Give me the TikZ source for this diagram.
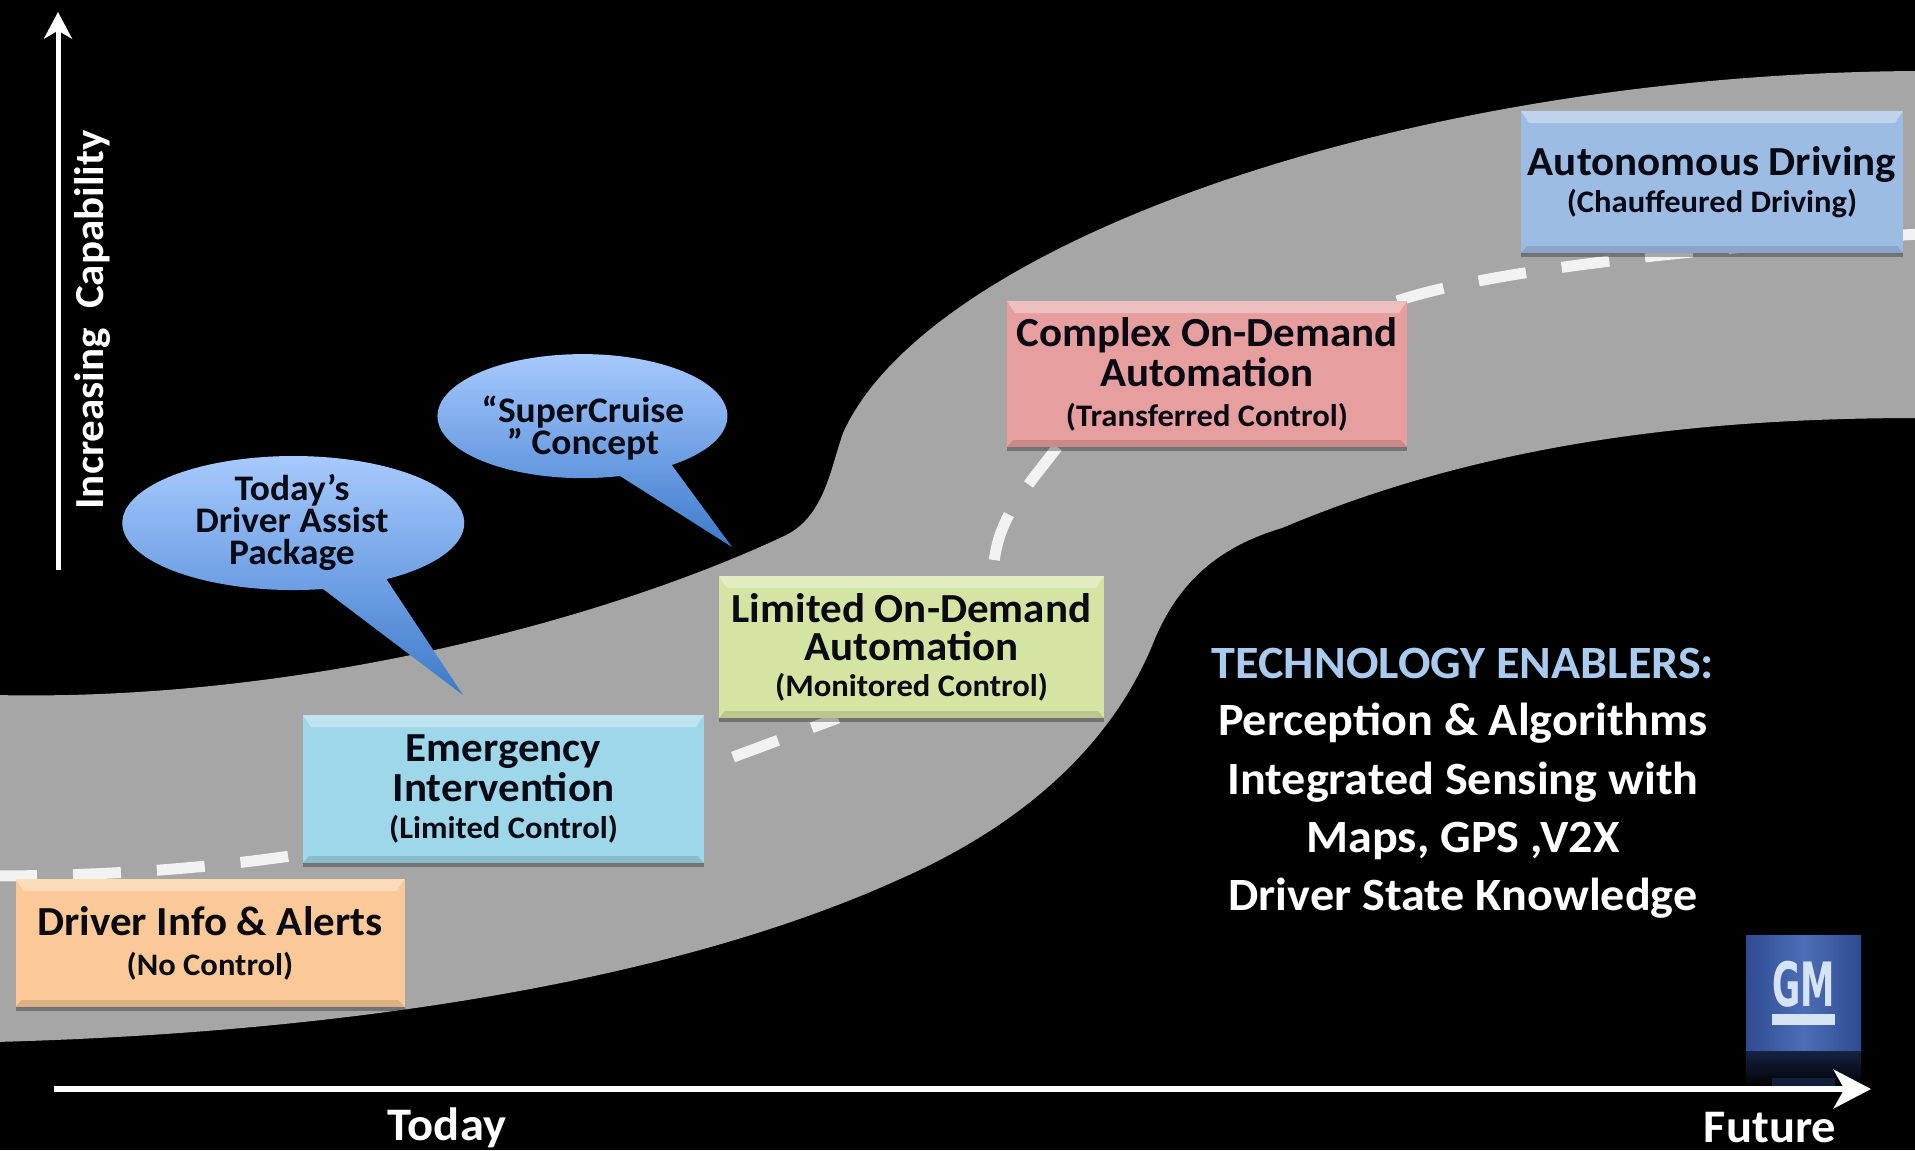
\documentclass[tikz,border=0pt]{standalone}
\usepackage{fontspec}
\usepackage{graphicx}
\setmainfont{Carlito}[FakeStretch=1.04]
\newfontfamily\gmfont{DejaVu Sans}
\usetikzlibrary{arrows.meta,shadows,calc,backgrounds}

\newlength{\pxunit}
\setlength{\pxunit}{0.75pt}

\definecolor{bandgrey}{HTML}{A6A6A6}
\definecolor{roadwhite}{HTML}{F2F2F2}
\definecolor{inkblack}{HTML}{0A0A14}
\definecolor{driverfill}{HTML}{FBC997}
\definecolor{emergencyfill}{HTML}{9DD7E9}
\definecolor{limitedfill}{HTML}{D4E4A2}
\definecolor{complexfill}{HTML}{E69E9E}
\definecolor{autofill}{HTML}{9DBCE3}
\definecolor{bubbletop}{HTML}{A9CCFF}
\definecolor{bubblemid}{HTML}{86B2F4}
\definecolor{bubbletip}{HTML}{3D7ACB}
\definecolor{enablerblue}{HTML}{A9CBEF}
\definecolor{gmedge}{HTML}{2F4B90}
\definecolor{gmcentre}{HTML}{4C6EB6}
\definecolor{gmletter}{HTML}{D6E3F3}

\newcommand{\sublabel}[1]{{\fontsize{23.5}{27}\selectfont #1}}

\tikzset{
  stagebox/.style={rectangle,fill=#1,align=center,inner sep=0pt,outer sep=0pt,
    text=inkblack,font=\bfseries\fontsize{31}{30}\selectfont,
    drop shadow={shadow xshift=0pt,shadow yshift=-3pt,opacity=.3,fill=black},
    path picture={
      \fill[white,opacity=.35] (path picture bounding box.north west) -- (path picture bounding box.north east)
        -- ++(-8,12) -- ($(path picture bounding box.north west)+(8,12)$) -- cycle;
      \fill[black,opacity=.12] (path picture bounding box.south west) -- (path picture bounding box.south east)
        -- ++(-6,-7) -- ($(path picture bounding box.south west)+(6,-7)$) -- cycle;
    }},
  roadline/.style={draw=roadwhite,line width=11\pxunit,dash pattern=on 48\pxunit off 36\pxunit},
  bubblefill/.style={top color=bubbletop,middle color=bubblemid,bottom color=bubbletip},
  bubbletext/.style={text=inkblack,align=center,font=\bfseries\fontsize{27}{24}\selectfont},
  vaxis/.style={draw=white,line width=5\pxunit,-{Stealth[length=20pt,width=21pt,inset=6pt]}},
  haxis/.style={draw=white,line width=6\pxunit,-{Stealth[length=28pt,width=29pt,inset=8pt]}},
  axislabel/.style={text=white,inner sep=0pt,font=\bfseries\fontsize{35}{38}\selectfont},
  enablertext/.style={text=white,anchor=base,inner sep=0pt,font=\bfseries\fontsize{34.7}{38}\selectfont}
}

\begin{document}
\begin{tikzpicture}[x=\pxunit,y=-\pxunit]
\useasboundingbox (0,0) rectangle (1915,1150);

% stages
\node[stagebox=driverfill,minimum width=389*\pxunit,minimum height=128*\pxunit] (driver) at (210,943)
  {Driver Info \& Alerts\\[0pt]\sublabel{(No Control)}};
\node[stagebox=emergencyfill,minimum width=401*\pxunit,minimum height=148*\pxunit] (emergency) at (503.5,789)
  {Emergency\\Intervention\\[-2pt]\sublabel{(Limited Control)}};
\node[stagebox=limitedfill,minimum width=385*\pxunit,minimum height=142*\pxunit] (limited) at (911.5,647)
  {Limited On-Demand\\[-1pt]Automation\\[-3.5pt]\sublabel{(Monitored Control)}};
\node[stagebox=complexfill,minimum width=400*\pxunit,minimum height=146*\pxunit] (complex) at (1207,374)
  {Complex On-Demand\\Automation\\[0pt]\sublabel{(Transferred Control)}};
\node[stagebox=autofill,minimum width=382*\pxunit,minimum height=142*\pxunit] (auto) at (1712,182)
  {Autonomous Driving\\[-2pt]\sublabel{(Chauffeured Driving)}};

\begin{pgfonlayer}{background}
\fill[black] (0,0) rectangle (1915,1150);

% grey band
\fill[bandgrey] (-5,695) .. controls (305,702) and (611,617) .. (782,537)
  .. controls (824,519) and (830,470) .. (843,433)
  .. controls (928,244) and (1404,73) .. (1920,71)
  -- (1920,418) .. controls (1710,418) and (1490,440) .. (1282,528)
  .. controls (1221,546) and (1179,580) .. (1154,641)
  .. controls (1117,733) and (1038,818) .. (900,879)
  .. controls (684,977) and (366,1032) .. (-5,1042) -- cycle;

% dashed road
\coordinate (roadstart) at (-11,876);
\coordinate (roadend) at (1936,233);
\draw[roadline] (roadstart) .. controls (110,876) and (210,868) .. (emergency.198);
\draw[roadline,dash phase=53\pxunit] (emergency.6) -- (limited.224);
\draw[roadline,dash phase=68\pxunit] (limited.41) .. controls (994,520) and (1025,490) .. (complex.206);
\draw[roadline] (complex.21.4) .. controls (1470,276) and (1650,250) .. (roadend);
\end{pgfonlayer}

% speech bubbles
\shade[bubblefill] (323,589) arc[start angle=80,end angle=417,x radius=171,y radius=67] -- (463,695) -- cycle;
\node[bubbletext] (todaytext) at (292,522) {Today’s\\Driver Assist\\Package};
\shade[bubblefill] (620,476) arc[start angle=75,end angle=412,x radius=145,y radius=62] -- (732,547) -- cycle;
\node[bubbletext] (cruisetext) at (583,428) {“SuperCruise\\” Concept};

% axes
\coordinate (vstart) at (58,570);
\coordinate (vend) at (58,12);
\coordinate (hstart) at (54,1089);
\coordinate (hend) at (1871,1089);

% logo
\node[rectangle,left color=gmedge,right color=gmedge,middle color=gmcentre,minimum width=115*\pxunit,minimum height=116*\pxunit,inner sep=0pt] (gmlogo) at (1803.5,993) {};
\node[rectangle,top color=gmedge!45!black,bottom color=black,minimum width=115*\pxunit,minimum height=36*\pxunit,inner sep=0pt,anchor=north] (gmshadow) at (gmlogo.south) {};
\node[text=gmletter,inner sep=0pt,font=\gmfont\bfseries] (gmtext) at (1803.5,984.5) {\resizebox{47pt}{34pt}{GM}};
\fill[gmletter] (1772,1014) rectangle (1835,1025);
\fill[gmedge!40!black] (1772,1078) rectangle (1835,1086);

\draw[vaxis] (vstart) -- (vend);
\draw[haxis] (hstart) -- (hend);

\node[axislabel,rotate=90,font=\bfseries\fontsize{31}{36}\selectfont] (capability) at (92,320) {Increasing\ \ Capability};
\node[axislabel] (today) at (447,1128) {Today};
\node[axislabel] (future) at (1770,1128) {Future};

\node[enablertext,text=enablerblue] (enablers) at (1463,678) {TECHNOLOGY ENABLERS:};
\node[enablertext] (perception) at (1463,735) {Perception \& Algorithms};
\node[enablertext] (sensing) at (1463,794) {Integrated Sensing with};
\node[enablertext] (maps) at (1463,852) {Maps, GPS ,V2X};
\node[enablertext] (state) at (1463,910) {Driver State Knowledge};

\end{tikzpicture}
\end{document}
